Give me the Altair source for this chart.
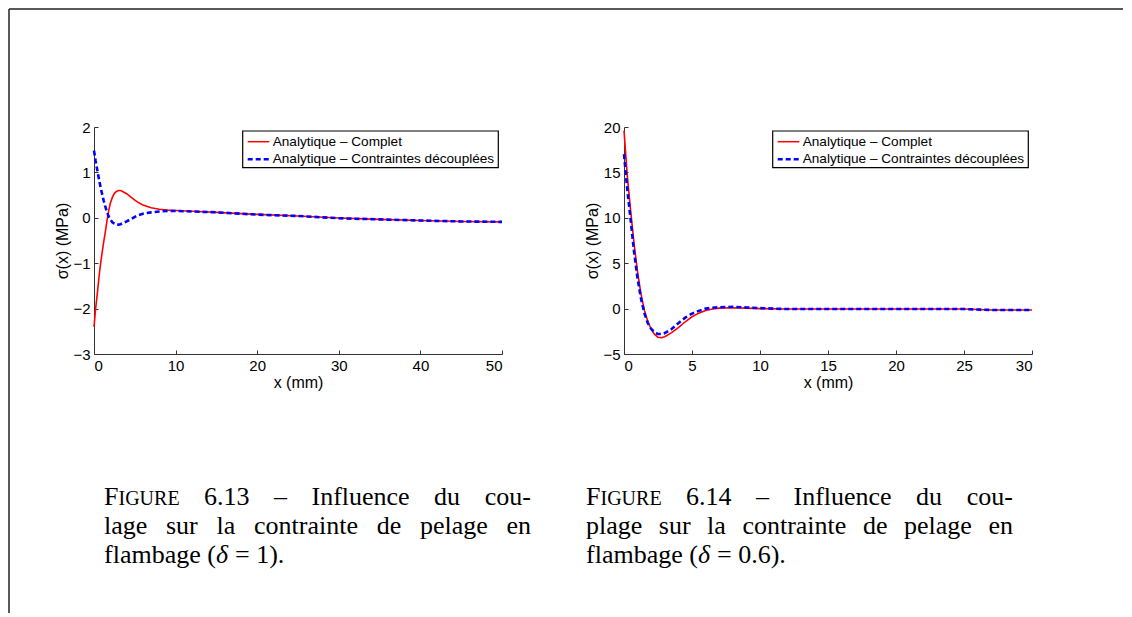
import altair as alt
import pandas as pd

# ---------------- data ----------------
series_names = ["Analytique – Complet", "Analytique – Contraintes découplées"]

x_613 = [0, 0.2, 0.4, 0.6, 0.8, 1.0, 1.2, 1.4, 1.6, 1.8, 2.0, 2.25, 2.5, 2.75, 3.0,
         3.25, 3.5, 4.0, 4.5, 5.0, 5.5, 6.0, 7.0, 8.0, 9.0, 10, 12, 15, 20, 25,
         30, 35, 40, 45, 50]
complet_613 = [-2.4, -2.0, -1.68, -1.32, -1.02, -0.76, -0.52, -0.3, -0.05, 0.16,
               0.32, 0.45, 0.54, 0.58, 0.6, 0.6, 0.58, 0.53, 0.46, 0.39, 0.33,
               0.28, 0.22, 0.19, 0.17, 0.16, 0.145, 0.12, 0.075, 0.04, -0.005,
               -0.035, -0.06, -0.08, -0.09]
decouple_613 = [1.48, 1.25, 1.05, 0.86, 0.68, 0.52, 0.37, 0.24, 0.12, 0.03, -0.04,
                -0.1, -0.13, -0.15, -0.15, -0.14, -0.12, -0.08, -0.03, 0.02, 0.06,
                0.09, 0.12, 0.14, 0.15, 0.15, 0.14, 0.12, 0.07, 0.04, -0.01,
                -0.035, -0.06, -0.08, -0.09]

x_614 = [0, 0.25, 0.5, 0.75, 1.0, 1.25, 1.5, 1.75, 2.0, 2.25, 2.5, 2.75, 3.0, 3.5,
         4.0, 4.5, 5.0, 5.5, 6.0, 6.5, 7.0, 8.0, 9.0, 10, 12, 15, 20, 25, 27, 30]
complet_614 = [19.6, 14.5, 10.6, 7.0, 4.0, 1.6, -0.2, -1.4, -2.3, -2.85, -3.15, -3.2,
               -3.1, -2.65, -2.1, -1.45, -0.9, -0.5, -0.2, -0.05, 0.05, 0.1, 0.05,
               0.0, -0.05, -0.05, -0.05, -0.05, -0.15, -0.15]
decouple_614 = [17.0, 13.0, 9.6, 6.1, 3.3, 1.1, -0.5, -1.6, -2.25, -2.6, -2.8, -2.8,
                -2.7, -2.25, -1.6, -1.0, -0.55, -0.25, 0.0, 0.1, 0.15, 0.2, 0.12,
                0.05, -0.05, -0.05, -0.05, -0.05, -0.15, -0.15]

xticks_613 = [0, 10, 20, 30, 40, 50]
yticks_613 = [-3, -2, -1, 0, 1, 2]
xticks_614 = [0, 5, 10, 15, 20, 25, 30]
yticks_614 = [-5, 0, 5, 10, 15, 20]

x_title = "x (mm)"
y_title = "σ(x) (MPa)"

caption_613 = [["F", "IGURE", "6.13", "–", "Influence", "du", "cou-"],
               ["lage", "sur", "la", "contrainte", "de", "pelage", "en"],
               ["flambage (", "δ", "= 1)."]]
caption_614 = [["F", "IGURE", "6.14", "–", "Influence", "du", "cou-"],
               ["plage", "sur", "la", "contrainte", "de", "pelage", "en"],
               ["flambage (", "δ", "= 0.6)."]]

# ---------------- layout ----------------
W, H = 408, 227
SPACING = 122
SERIF = "Liberation Serif"
SANS = "Liberation Sans"
CAP_SIZE = 26
SC_SIZE = 20
LINE_Y = [378, 407, 436]
# word offsets inside each caption line (justified text)
OFF_L1 = [0, 14.5, 100, 170, 207.5, 330, 427]
OFF_L2_613 = [0, 62, 112.5, 150, 272.7, 315.9, 427]
OFF_L2_614 = [0, 72.8, 121.1, 156.4, 276.9, 317.9, 427]
OFF_L3 = [0, 112, 131]

dummy = pd.DataFrame({"k": [0]})


def text_piece(t, x, y, size=CAP_SIZE, align="left", style="normal", font=SERIF):
    return alt.Chart(dummy).mark_text(
        text=t, font=font, fontSize=size, align=align, baseline="alphabetic",
        fontStyle=style, color="black"
    ).encode(x=alt.value(x), y=alt.value(y))


def caption_layers(words, cap_x, off_l2):
    layers = []
    l1, l2, l3 = words
    for i, w in enumerate(l1):
        size = SC_SIZE if i == 1 else CAP_SIZE
        align = "right" if i == len(l1) - 1 else "left"
        layers.append(text_piece(w, cap_x + OFF_L1[i], LINE_Y[0], size, align))
    for i, w in enumerate(l2):
        align = "right" if i == len(l2) - 1 else "left"
        layers.append(text_piece(w, cap_x + off_l2[i], LINE_Y[1], CAP_SIZE, align))
    for i, w in enumerate(l3):
        style = "italic" if i == 1 else "normal"
        layers.append(text_piece(w, cap_x + OFF_L3[i], LINE_Y[2], CAP_SIZE, "left", style))
    return layers


def legend_layers():
    bx0, bx1, by0, by1 = 148.7, 404.3, 4, 40.7
    box = alt.Chart(dummy).mark_rect(fill="white", stroke="black", strokeWidth=1.2).encode(
        x=alt.value(bx0), x2=alt.value(bx1), y=alt.value(by0), y2=alt.value(by1))
    r1 = alt.Chart(dummy).mark_rule(color="#ff0000", strokeWidth=1.5).encode(
        x=alt.value(153.7), x2=alt.value(175.3), y=alt.value(14.7))
    r2 = alt.Chart(dummy).mark_rule(color="#0000ff", strokeWidth=2.5, strokeDash=[5, 3]).encode(
        x=alt.value(153.7), x2=alt.value(175.3), y=alt.value(32.3))
    t1 = alt.Chart(dummy).mark_text(text=series_names[0], font=SANS, fontSize=13.6,
                                    align="left", baseline="middle", color="black").encode(
        x=alt.value(178.7), y=alt.value(14.7))
    t2 = alt.Chart(dummy).mark_text(text=series_names[1], font=SANS, fontSize=13.6,
                                    align="left", baseline="middle", color="black").encode(
        x=alt.value(178.7), y=alt.value(32.3))
    return [box, r1, r2, t1, t2]


def panel(xs, comp, dec, xdom, ydom, xt, yt, words, cap_x, off_l2, border=False):
    df = pd.DataFrame({
        "x": xs + xs,
        "sigma": comp + dec,
        "serie": [series_names[0]] * len(xs) + [series_names[1]] * len(xs),
    })
    xs_scale = alt.Scale(domain=xdom, nice=False, zero=False)
    ys_scale = alt.Scale(domain=ydom, nice=False, zero=False)
    color = alt.Color("serie:N", scale=alt.Scale(domain=series_names, range=["#ff0000", "#0000ff"]),
                      legend=None)

    red = alt.Chart(df).transform_filter(alt.datum.serie == series_names[0]).mark_line(
        strokeWidth=1.6).encode(
        x=alt.X("x:Q", scale=xs_scale,
                axis=alt.Axis(orient="bottom", values=xt, title=x_title, ticks=False,
                              labelPadding=4, titlePadding=1, format="d")),
        y=alt.Y("sigma:Q", scale=ys_scale,
                axis=alt.Axis(orient="left", values=yt, title=y_title, ticks=False,
                              labelPadding=4, titlePadding=2, format="d")),
        color=color,
    )
    blue = alt.Chart(df).transform_filter(alt.datum.serie == series_names[1]).mark_line(
        strokeWidth=2.6, strokeDash=[5, 3]).encode(
        x=alt.X("x:Q", scale=xs_scale, axis=None),
        y=alt.Y("sigma:Q", scale=ys_scale, axis=None),
        color=color,
    )
    ticks = alt.Chart(df).mark_line(opacity=0).encode(
        x=alt.X("x:Q", scale=xs_scale,
                axis=alt.Axis(orient="top", offset=-H, values=xt, labels=False, domain=False,
                              title=None, ticks=True, tickSize=4)),
        y=alt.Y("sigma:Q", scale=ys_scale,
                axis=alt.Axis(orient="right", offset=-W, values=yt, labels=False, domain=False,
                              title=None, ticks=True, tickSize=4)),
    )
    layers = [red, blue, ticks] + legend_layers() + caption_layers(words, cap_x, off_l2)
    if border:
        top = alt.Chart(dummy).mark_rule(color="#222", strokeWidth=1.5).encode(
            x=alt.value(-85), x2=alt.value(1029), y=alt.value(-118))
        left = alt.Chart(dummy).mark_rule(color="#222", strokeWidth=1.5).encode(
            x=alt.value(-85), y=alt.value(-118), y2=alt.value(486))
        layers += [top, left]
    return alt.layer(*layers).resolve_axis(x="independent", y="independent").properties(
        width=W, height=H)


left_panel = panel(x_613, complet_613, decouple_613, [0, 50], [-3, 2], xticks_613, yticks_613,
                   caption_613, 10, OFF_L2_613, border=True)
right_panel = panel(x_614, complet_614, decouple_614, [0, 30], [-5, 20], xticks_614, yticks_614,
                    caption_614, -38, OFF_L2_614)

chart = alt.hconcat(left_panel, right_panel, spacing=SPACING, bounds="flush").properties(
    padding=0
).configure_view(stroke=None).configure_axis(
    labelFont=SANS, labelFontSize=15, labelColor="black",
    titleFont=SANS, titleFontSize=16, titleFontWeight="normal", titleColor="black",
    domainColor="#333", tickColor="#333", grid=False,
)

chart.save("out.html", embed_options={"renderer": "svg", "actions": False})
